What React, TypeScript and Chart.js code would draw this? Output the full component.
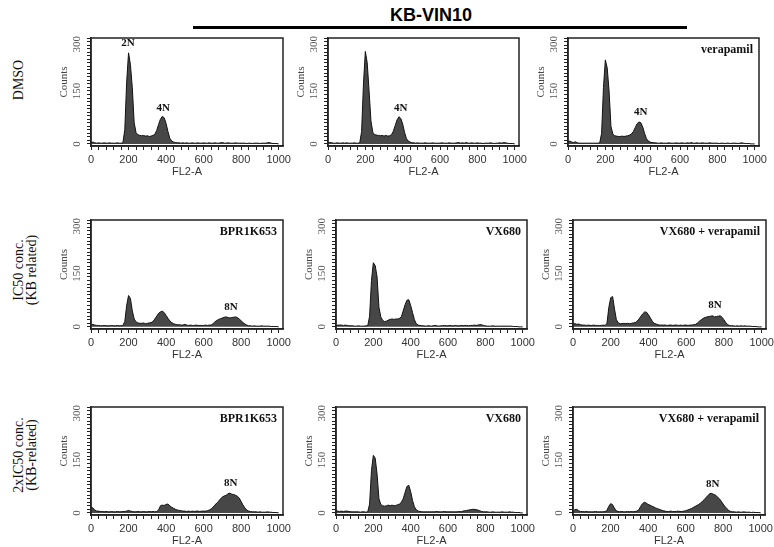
import React, { useEffect, useRef } from "react";
import { Chart, registerables } from "chart.js";

Chart.register(...registerables);

// FL2-A channel bins
const channels = [
  0, 10, 20, 30, 40, 50, 60, 70, 80, 90,
  100, 110, 120, 130, 140, 150, 160, 170, 180, 190,
  200, 210, 220, 230, 240, 250, 260, 270, 280, 290,
  300, 310, 320, 330, 340, 350, 360, 370, 380, 390,
  400, 410, 420, 430, 440, 450, 460, 470, 480, 490,
  500, 510, 520, 530, 540, 550, 560, 570, 580, 590,
  600, 610, 620, 630, 640, 650, 660, 670, 680, 690,
  700, 710, 720, 730, 740, 750, 760, 770, 780, 790,
  800, 810, 820, 830, 840, 850, 860, 870, 880, 890,
  900, 910, 920, 930, 940, 950, 960, 970, 980, 990,
  1000,
];

const xTickLabels = [0, 200, 400, 600, 800, 1000];
const yTickLabels = [0, 150, 300];

// Row 1: DMSO
const dmsoA = [
  4, 5, 3, 2, 3, 2, 2, 3, 2, 2,
  3, 2, 2, 2, 3, 2, 2, 3, 40, 175,
  258, 225, 160, 60, 32, 26, 24, 23, 24, 22,
  23, 21, 22, 24, 27, 38, 55, 70, 78, 74,
  58, 35, 16, 8, 5, 4, 3, 3, 2, 3,
  2, 3, 2, 2, 3, 2, 2, 3, 2, 2,
  3, 2, 2, 3, 2, 2, 3, 2, 2, 3,
  4, 2, 2, 3, 2, 2, 2, 3, 2, 2,
  2, 2, 2, 1, 2, 2, 1, 2, 2, 2,
  1, 2, 2, 2, 3, 4, 2, 1, 1, 1,
  0,
];
const dmsoB = [
  3, 4, 3, 2, 2, 3, 2, 2, 3, 2,
  3, 2, 2, 2, 3, 2, 2, 3, 35, 170,
  262, 230, 150, 65, 33, 26, 25, 24, 23, 24,
  22, 24, 22, 23, 26, 36, 52, 68, 77, 72,
  56, 33, 15, 8, 5, 3, 3, 2, 3, 2,
  2, 2, 3, 2, 2, 2, 3, 2, 2, 2,
  2, 3, 2, 2, 2, 3, 2, 2, 2, 3,
  4, 2, 3, 2, 4, 2, 2, 3, 2, 2,
  3, 2, 2, 1, 2, 2, 2, 3, 2, 1,
  2, 2, 3, 2, 4, 3, 2, 1, 1, 1,
  0,
];
const dmsoVerapamil = [
  6, 8, 5, 4, 6, 3, 2, 2, 2, 2,
  2, 2, 2, 2, 2, 2, 2, 3, 30, 160,
  238, 215, 150, 50, 28, 23, 22, 21, 21, 22,
  21, 22, 23, 25, 28, 35, 46, 57, 62, 60,
  48, 30, 15, 8, 5, 4, 3, 3, 2, 2,
  3, 2, 2, 2, 3, 2, 2, 2, 3, 2,
  2, 3, 2, 2, 3, 2, 4, 2, 2, 3,
  2, 2, 3, 2, 2, 2, 3, 2, 2, 2,
  2, 1, 2, 2, 1, 2, 2, 1, 2, 2,
  2, 1, 2, 3, 2, 1, 1, 1, 0, 0,
  0,
];

// Row 2: IC50 conc.
const ic50Bpr = [
  4, 7, 5, 4, 4, 3, 3, 4, 3, 3,
  3, 4, 3, 3, 4, 3, 3, 4, 15, 60,
  88, 80, 45, 22, 14, 11, 10, 10, 11, 9,
  10, 11, 12, 15, 22, 30, 38, 42, 44, 40,
  32, 24, 17, 12, 9, 7, 6, 6, 5, 5,
  7, 5, 4, 5, 4, 4, 5, 4, 4, 4,
  4, 5, 4, 5, 5, 9, 14, 18, 21, 23,
  25, 27, 28, 26, 25, 26, 27, 28, 26, 22,
  17, 12, 8, 5, 3, 3, 2, 3, 2, 2,
  2, 3, 2, 2, 2, 2, 1, 1, 1, 1,
  0,
];
const ic50Vx = [
  4, 5, 5, 5, 4, 5, 4, 3, 3, 3,
  2, 2, 3, 2, 2, 2, 3, 3, 30, 130,
  180, 172, 140, 55, 28, 18, 15, 16, 19, 21,
  22, 21, 22, 22, 24, 28, 45, 62, 75, 76,
  60, 40, 20, 9, 5, 4, 3, 3, 2, 3,
  3, 2, 3, 4, 3, 2, 3, 3, 4, 3,
  3, 4, 3, 3, 4, 3, 3, 4, 3, 4,
  4, 3, 4, 4, 5, 4, 5, 6, 6, 4,
  3, 2, 2, 2, 3, 2, 2, 2, 2, 2,
  2, 2, 2, 2, 2, 1, 1, 1, 0, 0,
  0,
];
const ic50VxVera = [
  8, 9, 7, 8, 6, 5, 5, 4, 5, 4,
  4, 5, 4, 4, 4, 4, 5, 4, 10, 55,
  82, 85, 50, 20, 11, 9, 9, 10, 9, 10,
  9, 10, 11, 12, 16, 22, 30, 37, 42, 41,
  34, 25, 16, 10, 8, 6, 5, 5, 5, 5,
  4, 5, 5, 4, 5, 5, 4, 5, 4, 5,
  5, 4, 5, 5, 6, 7, 11, 16, 20, 24,
  26, 28, 29, 30, 31, 28, 29, 30, 31, 27,
  20, 12, 6, 4, 3, 3, 2, 3, 2, 3,
  2, 3, 2, 2, 2, 1, 1, 1, 0, 0,
  0,
];

// Row 3: 2xIC50 conc.
const x2Bpr = [
  17, 14, 8, 5, 5, 4, 4, 3, 4, 3,
  3, 4, 3, 3, 4, 3, 3, 4, 4, 5,
  7, 5, 4, 3, 3, 4, 3, 3, 4, 3,
  3, 4, 3, 4, 3, 4, 8, 20, 22, 21,
  24, 25, 20, 16, 13, 10, 8, 7, 6, 5,
  5, 4, 5, 4, 5, 4, 5, 5, 4, 5,
  5, 5, 6, 8, 11, 16, 22, 28, 33, 40,
  45, 48, 50, 54, 56, 53, 52, 50, 47, 42,
  32, 22, 14, 8, 5, 4, 3, 3, 3, 2,
  3, 2, 2, 2, 3, 2, 2, 1, 1, 1,
  0,
];
const x2Vx = [
  6, 5, 4, 5, 4, 5, 5, 4, 3, 3,
  3, 3, 3, 2, 3, 3, 2, 3, 25, 120,
  163, 155, 110, 40, 24, 20, 19, 20, 22, 20,
  22, 20, 21, 23, 25, 30, 40, 58, 75, 78,
  60, 35, 17, 9, 5, 4, 3, 3, 3, 3,
  3, 3, 3, 3, 4, 3, 3, 3, 4, 3,
  3, 3, 3, 3, 3, 3, 4, 3, 5, 6,
  7, 8, 9, 10, 10, 9, 8, 6, 4, 3,
  3, 3, 2, 2, 3, 2, 2, 2, 2, 3,
  2, 2, 2, 3, 2, 2, 1, 1, 1, 0,
  0,
];
const x2VxVera = [
  5, 9, 10, 6, 4, 4, 3, 4, 3, 3,
  3, 3, 4, 3, 3, 3, 3, 4, 6, 18,
  26, 24, 14, 6, 4, 3, 4, 3, 3, 4,
  3, 4, 3, 4, 5, 8, 18, 26, 30, 28,
  24, 22, 19, 17, 14, 12, 10, 8, 6, 5,
  4, 4, 5, 4, 4, 4, 5, 4, 4, 5,
  6, 8, 10, 12, 15, 18, 21, 24, 28, 33,
  38, 44, 50, 55, 55, 52, 50, 45, 40, 33,
  25, 18, 12, 7, 4, 3, 3, 2, 3, 2,
  2, 3, 2, 2, 2, 1, 2, 1, 1, 1,
  0,
];

type Peak = { text: string; x: number; y: number };
type PanelCfg = {
  values: number[];
  corner: string;
  peaks: Peak[];
  left: number;
  top: number;
  w: number;
  h: number;
};

const panels: PanelCfg[] = [
  { values: dmsoA, corner: "", peaks: [{ text: "2N", x: 197, y: 284 }, { text: "4N", x: 385, y: 100 }], left: 91, top: 38, w: 192, h: 108 },
  { values: dmsoB, corner: "", peaks: [{ text: "4N", x: 390, y: 100 }], left: 328, top: 38, w: 191, h: 108 },
  { values: dmsoVerapamil, corner: "verapamil", peaks: [{ text: "4N", x: 390, y: 90 }], left: 568, top: 38, w: 191, h: 108 },
  { values: ic50Bpr, corner: "BPR1K653", peaks: [{ text: "8N", x: 746, y: 56 }], left: 91, top: 220, w: 192, h: 109 },
  { values: ic50Vx, corner: "VX680", peaks: [], left: 336, top: 220, w: 191, h: 109 },
  { values: ic50VxVera, corner: "VX680 + verapamil", peaks: [{ text: "8N", x: 753, y: 62 }], left: 573, top: 220, w: 193, h: 109 },
  { values: x2Bpr, corner: "BPR1K653", peaks: [{ text: "8N", x: 745, y: 85 }], left: 91, top: 407, w: 192, h: 108 },
  { values: x2Vx, corner: "VX680", peaks: [], left: 336, top: 407, w: 191, h: 108 },
  { values: x2VxVera, corner: "VX680 + verapamil", peaks: [{ text: "8N", x: 745, y: 82 }], left: 573, top: 407, w: 192, h: 108 },
];

const SERIF = "'Liberation Serif', 'DejaVu Serif', serif";
const SANS = "'Liberation Sans', Arial, sans-serif";
const AXIS_W = 50;
const PAD_TOP = 8;
const PAD_RIGHT = 16;
const XAXIS_H = 36;

const decorPlugin = {
  id: "decor",
  afterDraw(chart: any, _args: any, opts: any) {
    const { ctx, chartArea: a, scales } = chart;
    const ys = scales.y;
    const xs = scales.x;
    ctx.save();
    // frame
    ctx.strokeStyle = "#222";
    ctx.lineWidth = 1.5;
    ctx.strokeRect(a.left, a.top, a.right - a.left, a.bottom - a.top);

    // rotated y tick labels
    ctx.fillStyle = "#555";
    ctx.font = `11px ${SERIF}`;
    ctx.textAlign = "center";
    ctx.textBaseline = "middle";
    for (const v of yTickLabels) {
      const t = String(v);
      const half = ctx.measureText(t).width / 2;
      let py = ys.getPixelForValue(v);
      py = Math.max(py, a.top + half - 2);
      ctx.save();
      ctx.translate(a.left - 14, py);
      ctx.rotate(-Math.PI / 2);
      ctx.fillText(t, 0, 0);
      ctx.restore();
    }
    // y title
    ctx.save();
    ctx.fillStyle = "#444";
    ctx.font = `11px ${SERIF}`;
    ctx.translate(a.left - 27, (a.top + a.bottom) / 2 - 10);
    ctx.rotate(-Math.PI / 2);
    ctx.fillText("Counts", 0, 0);
    ctx.restore();

    // annotations
    ctx.fillStyle = "#111";
    ctx.font = `bold 11px ${SERIF}`;
    for (const p of opts.peaks || []) {
      ctx.textAlign = "center";
      ctx.fillText(p.text, xs.getPixelForValue(p.x), ys.getPixelForValue(p.y));
    }
    if (opts.corner) {
      ctx.font = `bold 12px ${SERIF}`;
      ctx.textAlign = "right";
      ctx.fillText(opts.corner, a.right - 6, a.top + 12);
    }
    ctx.restore();
  },
};

function Panel({ cfg }: { cfg: PanelCfg }) {
  const ref = useRef<HTMLCanvasElement | null>(null);
  const cw = cfg.w + AXIS_W + PAD_RIGHT;
  const ch = cfg.h + PAD_TOP + XAXIS_H;

  useEffect(() => {
    if (!ref.current) return;
    const chart = new Chart(ref.current, {
      type: "line",
      data: {
        datasets: [
          {
            data: cfg.values.map((v, i) => ({ x: channels[i], y: v })),
            borderColor: "#111",
            borderWidth: 1,
            backgroundColor: "#474747",
            fill: "origin",
            pointRadius: 0,
            tension: 0,
          },
        ],
      },
      options: {
        animation: false,
        responsive: false,
        devicePixelRatio: 1,
        layout: { padding: { top: PAD_TOP, right: PAD_RIGHT, left: 0, bottom: 0 } },
        plugins: {
          legend: { display: false },
          tooltip: { enabled: false },
          decor: { corner: cfg.corner, peaks: cfg.peaks },
        } as any,
        scales: {
          x: {
            type: "linear",
            min: 0,
            max: 1023,
            afterFit: (s: any) => {
              s.height = XAXIS_H;
            },
            ticks: {
              stepSize: 40,
              autoSkip: false,
              includeBounds: false,
              maxRotation: 0,
              minRotation: 0,
              padding: 3,
              color: "#333",
              font: { family: SANS, size: 11 },
              callback: (v: any) => (xTickLabels.includes(Number(v)) ? String(v) : ""),
            },
            grid: { drawOnChartArea: false, drawTicks: true, tickLength: 4, color: "#222" },
            border: { display: true, color: "#222", width: 1.5 },
            title: {
              display: true,
              text: "FL2-A",
              color: "#333",
              font: { family: SANS, size: 11 },
              padding: { top: 0, bottom: 3 },
            },
          },
          y: {
            type: "linear",
            min: -6,
            max: 300,
            afterFit: (s: any) => {
              s.width = AXIS_W;
            },
            ticks: { stepSize: 10, display: false, autoSkip: false, includeBounds: false },
            grid: { drawOnChartArea: false, drawTicks: true, tickLength: 4, color: "#222" },
            border: { display: true, color: "#222", width: 1.5 },
          },
        },
      } as any,
      plugins: [decorPlugin as any],
    });
    return () => chart.destroy();
  }, []);

  return (
    <canvas
      ref={ref}
      width={cw}
      height={ch}
      style={{ position: "absolute", left: cfg.left - AXIS_W, top: cfg.top - PAD_TOP, width: cw, height: ch }}
    />
  );
}

const rowLabelStyle: React.CSSProperties = {
  position: "absolute",
  transform: "translate(-50%, -50%) rotate(-90deg)",
  whiteSpace: "nowrap",
  textAlign: "center",
  fontFamily: SERIF,
  fontSize: 14,
  lineHeight: "13px",
  color: "#111",
};

export default function App() {
  return (
    <div
      style={{
        position: "absolute",
        left: 0,
        top: 0,
        width: 774,
        height: 547,
        background: "#fff",
        overflow: "hidden",
      }}
    >
      <div
        style={{
          position: "absolute",
          left: 431,
          top: 15,
          transform: "translate(-50%, -50%)",
          fontFamily: SANS,
          fontWeight: "bold",
          fontSize: 18,
          whiteSpace: "nowrap",
          color: "#000",
        }}
      >
        KB-VIN10
      </div>
      <div style={{ position: "absolute", left: 193, top: 26, width: 494, height: 2.5, background: "#000" }} />

      <div style={{ ...rowLabelStyle, left: 18, top: 80 }}>DMSO</div>
      <div style={{ ...rowLabelStyle, left: 25, top: 270 }}>
        IC50 conc.
        <br />
        (KB related)
      </div>
      <div style={{ ...rowLabelStyle, left: 25, top: 455 }}>
        2xIC50 conc.
        <br />
        (KB-related)
      </div>

      {panels.map((p, i) => (
        <Panel key={i} cfg={p} />
      ))}
    </div>
  );
}
